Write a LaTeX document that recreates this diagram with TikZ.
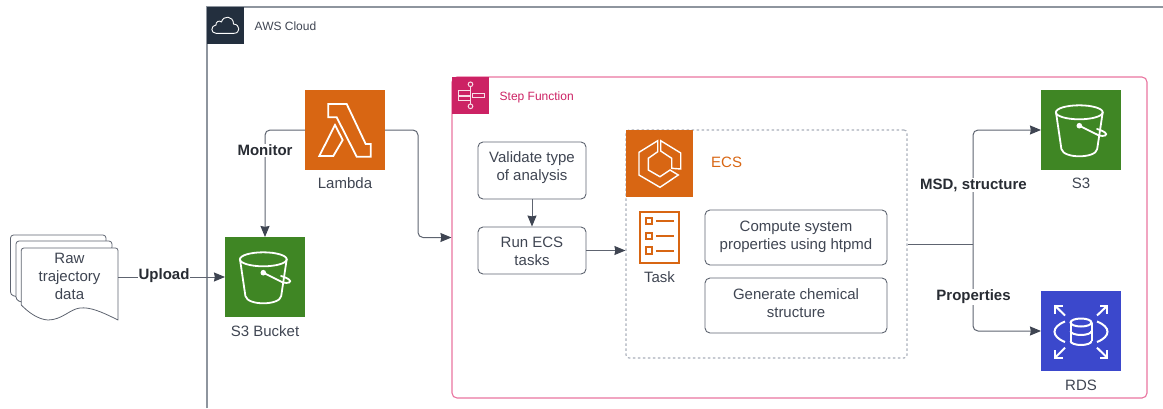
\documentclass[tikz,border=0pt]{standalone}
\usepackage{fontspec}
\setmainfont{Liberation Sans}
\usetikzlibrary{arrows.meta}
\definecolor{inkc}{HTML}{3F4552}
\definecolor{boldc}{HTML}{282C33}
\definecolor{linec}{HTML}{5E6470}
\definecolor{framec}{HTML}{8E959E}
\definecolor{awsdark}{HTML}{232F3E}
\definecolor{sfpink}{HTML}{CC2264}
\definecolor{sfline}{HTML}{E9749F}
\definecolor{orangec}{HTML}{D86613}
\definecolor{greenc}{HTML}{3F8624}
\definecolor{bluec}{HTML}{3B48CC}
\definecolor{dashc}{HTML}{A9AFBA}
\tikzset{
  txt/.style={font=\fontsize{15}{18}\selectfont,text=inkc,align=center,inner sep=0pt},
  smalltxt/.style={txt,anchor=west,font=\fontsize{12}{15}\selectfont},
  edgelabel/.style={font=\fontsize{15}{18}\selectfont\bfseries,text=boldc,fill=white,inner sep=1pt},
  iconbox/.style={minimum width=80pt,minimum height=80pt,inner sep=0pt,outer sep=0pt},
  procbox/.style={draw=linec,line width=0.9pt,rounded corners=5pt,inner sep=0pt},
  conn/.style={draw=linec,line width=1pt,rounded corners=5pt},
  arrowed/.style={conn,-{Stealth[length=11pt,width=9pt,inset=0.8pt,color=inkc]}},
  glyph/.style={draw=white,line width=1.8pt,line join=miter,fill=none},
  docsheet/.style={draw=linec,line width=0.8pt,fill=white,line join=round},
  pics/bucketicon/.style={code={
    \draw[glyph] (-1.7,-17.7) ellipse [x radius=23.4pt,y radius=7pt];
    \draw[glyph,line cap=round] (-25,-17.7) -- (-19.6,19) .. controls (-18.5,24) and (-10,26.3) .. (-1.7,26.3)
       .. controls (6.6,26.3) and (15.5,24) .. (16.2,19) -- (21.7,-17.7);
    \fill[white] (-1.7,-4.3) circle (2.8pt);
    \draw[glyph,line cap=round] (-1.7,-4.3) -- (17,5) .. controls (24,7.5) and (27,4.5) .. (24,2.5)
       .. controls (22,1) and (18,-0.5) .. (16,-1);
  }}
}
\begin{document}
\begin{tikzpicture}[x=1pt,y=-1pt]
\path[use as bounding box] (0,0) rectangle (1163,408);

% AWS Cloud frame
\coordinate (frameBL) at (207,408);
\coordinate (frameTL) at (207,7);
\coordinate (frameTR) at (1163,7);
\draw[framec,line width=1.3pt] (frameBL) -- (frameTL) -- (frameTR);
\node[fill=awsdark,minimum size=37.5pt,inner sep=0pt,outer sep=0pt] (awsicon) at (225.7,25.7) {};
\draw[white,line width=0.9pt,line join=round] (216,33.3) .. controls (210.5,33.3) and (210.5,25.5) .. (216,25)
  .. controls (215.5,21.5) and (219.5,20) .. (221.5,22)
  .. controls (223,15) and (233.5,15.5) .. (233.5,24)
  .. controls (240.5,24.5) and (240.5,33.3) .. (234,33.3) -- cycle;
\node[smalltxt] (awslabel) at (254.5,26) {AWS Cloud};

% Step Function frame
\node[draw=sfline,line width=1.1pt,rounded corners=5pt,minimum width=695pt,minimum height=321pt,inner sep=0pt] (sf) at (799.5,237.5) {};
\node[fill=sfpink,minimum size=37.5pt,inner sep=0pt,outer sep=0pt] (sficon) at (470.7,95.7) {};
\begin{scope}[white!85!sfpink,line width=1pt]
  \draw (470.5,84.3) circle (2.3pt);
  \draw (470.5,106.3) circle (2.3pt);
  \draw (470.5,86.6) -- (470.5,90.5);
  \draw (470.5,104) -- (470.5,100.6);
  \draw (458,90.5) rectangle (470.5,95);
  \draw (458,96) rectangle (470.5,100.6);
  \draw (472.5,93) rectangle (484,97.5);
\end{scope}
\node[smalltxt,text=sfpink] (sflabel) at (499.5,97) {Step Function};

% Document stack
\node[minimum width=97pt,minimum height=60pt,inner sep=0pt] (doc) at (69.5,277) {};
\draw[docsheet,rounded corners=3pt] (10.5,295) -- (10.5,235) -- (106,235) -- (106,245) -- (30,300) -- cycle;
\draw[docsheet,rounded corners=3pt] (16,300) -- (16,241) -- (112,241) -- (112,250) -- (30,305) -- cycle;
\draw[docsheet] (21.3,305) -- (21.3,250) [rounded corners=2.5pt] -- (21.3,248) -- (118,248) [sharp corners] -- (118,320)
  .. controls (100,311) and (90,307) .. (80,308)
  .. controls (70,309) and (62,320) .. (48,320)
  .. controls (38,319.5) and (28,312) .. (21.3,305) -- cycle;
\node[txt] (doctext) at (69.5,276) {Raw\\trajectory\\data};

% Service tiles
\node[iconbox,fill=orangec] (lambda) at (345,130) {};
\draw[glyph] (328.3,104) -- (346.7,104) -- (365.7,144) -- (370.7,144) -- (370.7,156.7) -- (356.7,156.7) -- (336.7,117.3) -- (328.3,117.3) -- cycle;
\draw[glyph] (335,125) -- (342.7,140) -- (333.3,156) -- (319.3,156) -- cycle;
\node[txt] (lambdalabel) at (345,183.5) {Lambda};

\node[iconbox,fill=greenc] (bucket) at (265,277) {};
\pic at (bucket.center) {bucketicon};
\node[txt] (bucketlabel) at (265,331) {S3 Bucket};

\node[iconbox,fill=greenc] (s3) at (1081,130) {};
\pic at (s3.center) {bucketicon};
\node[txt] (s3label) at (1081,183.5) {S3};

\node[iconbox,fill=bluec] (rds) at (1081,331) {};
\begin{scope}[white,line width=2pt,fill=none]
  \draw (1055,313.5) -- (1055,305.7) -- (1062.8,305.7);
  \draw (1055,305.7) -- (1065,315.5);
  \draw (1107.3,313.5) -- (1107.3,305.7) -- (1099.5,305.7);
  \draw (1107.3,305.7) -- (1097,315.5);
  \draw (1055,350) -- (1055,357.7) -- (1062.8,357.7);
  \draw (1055,357.7) -- (1065,347.7);
  \draw (1107.3,350) -- (1107.3,357.7) -- (1099.5,357.7);
  \draw (1107.3,357.7) -- (1097,347.7);
  \draw (1065,321.5) .. controls (1051,327) and (1051,336.5) .. (1065,342);
  \draw (1097,321.5) .. controls (1111,327) and (1111,336.5) .. (1097,342);
  \draw (1081,322.5) ellipse [x radius=10.5pt,y radius=4pt];
  \draw (1070.5,322.5) -- (1070.5,341);
  \draw (1091.5,322.5) -- (1091.5,341);
  \draw (1070.5,331) arc [start angle=180,end angle=360,x radius=10.5pt,y radius=4pt];
  \draw (1070.5,341) arc [start angle=180,end angle=360,x radius=10.5pt,y radius=4pt];
\end{scope}
\node[txt] (rdslabel) at (1081,385) {RDS};

% ECS container
\node[draw=dashc,line width=1.1pt,dash pattern=on 2.5pt off 2.5pt,rounded corners=3pt,minimum width=281pt,minimum height=228pt,inner sep=0pt] (ecs) at (766.5,244) {};
\node[fill=orangec,minimum size=67pt,inner sep=0pt,outer sep=0pt] (ecsicon) at (659.5,163.5) {};
\draw[white,line width=1.4pt,line join=miter] (657.7,140.7) -- (639,152.3) -- (639,175) -- (660,187.3) -- (678.3,175) -- (670,170) -- (660,176.7) -- (648.3,170) -- (648.3,158.3) -- (657.7,151.7) -- cycle;
\draw[white,line width=1.4pt,line join=miter] (660.7,140.7) -- (680.7,153) -- (680.7,169) -- (671.7,168.3) -- (671.7,158.3) -- (660.7,151) -- cycle;
\node[txt,anchor=west,text=orangec] (ecslabel) at (711,162) {ECS};

% Task icon
\node[draw=orangec,line width=2pt,minimum width=39pt,minimum height=51.5pt,inner sep=0pt] (task) at (659.5,237.5) {};
\begin{scope}[orangec,line width=2pt]
  \draw (646,218) rectangle (652,224.3);
  \draw (646,232.7) rectangle (652,239);
  \draw (646,247.4) rectangle (652,253.7);
  \draw (656,221.3) -- (674.3,221.3);
  \draw (656,236) -- (674.3,236);
  \draw (656,250.7) -- (674.3,250.7);
\end{scope}
\node[txt] (tasklabel) at (659.5,277) {Task};

% Process boxes
\node[procbox,minimum width=108pt,minimum height=57pt] (validate) at (532,170.5) {};
\node[txt] (validatetext) at (532,168) {Validate type\\of analysis};
\node[procbox,minimum width=108pt,minimum height=47pt] (runecs) at (532,250.5) {};
\node[txt] (runecstext) at (532,251) {Run ECS\\tasks};
\node[procbox,minimum width=182pt,minimum height=55pt] (compute) at (796,237.5) {};
\node[txt] (computetext) at (796,237) {Compute system\\properties using htpmd};
\node[procbox,minimum width=182pt,minimum height=55pt] (generate) at (796,305.5) {};
\node[txt] (generatetext) at (796,303) {Generate chemical\\structure};

% Connectors
\coordinate (jog) at (418,183);
\coordinate (fork) at (973,244);
\draw[arrowed] (doc.east) -- (bucket.west);
\draw[arrowed] (lambda.west) -| (bucket.north);
\draw[arrowed] (lambda.east) -| (jog) |- (sf.west);
\draw[arrowed] (validate.south) -- (runecs.north);
\draw[arrowed] (runecs.east) -- (runecs.east -| ecs.west);
\draw[conn] (ecs.east) -- (fork);
\draw[arrowed] (fork) |- (s3.west);
\draw[arrowed] (fork) |- (rds.west);

% Connector labels
\node[edgelabel] (uploadlabel) at (164,276) {Upload};
\node[edgelabel] (monitorlabel) at (265,150.5) {Monitor};
\node[edgelabel] (msdlabel) at (973.5,185) {MSD, structure};
\node[edgelabel] (proplabel) at (973.5,297) {Properties};
\end{tikzpicture}
\end{document}
